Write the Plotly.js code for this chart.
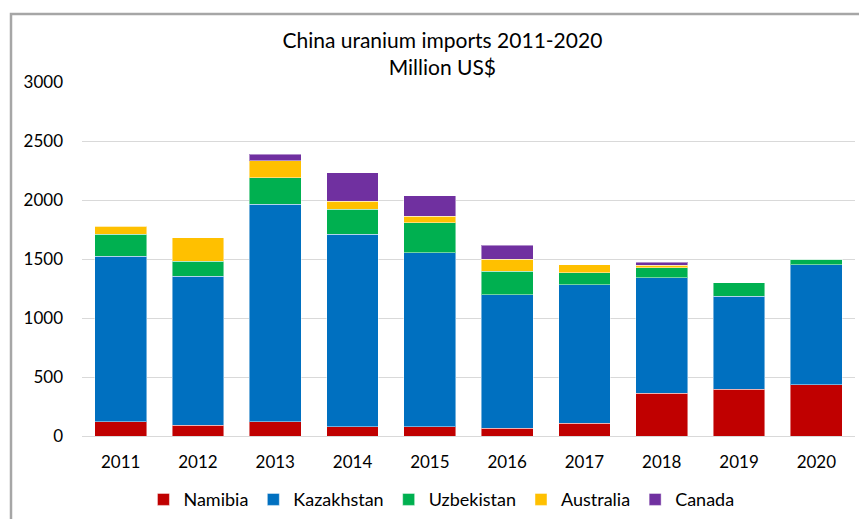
<!DOCTYPE html>
<html>
<head>
<meta charset="utf-8">
<script src="https://cdn.plot.ly/plotly-3.0.1.min.js"></script>
<style>
html,body{margin:0;padding:0;background:#fff;}
#chart{width:859px;height:519px;}
</style>
</head>
<body>
<div id="chart"></div>
<script>
var years = ["2011","2012","2013","2014","2015","2016","2017","2018","2019","2020"];
var namibia    = [122, 93, 122, 79, 79, 65, 108, 363, 397, 433];
var kazakhstan = [1402, 1261, 1841, 1629, 1474, 1133, 1175, 977, 787, 1020];
var uzbekistan = [184, 128, 227, 213, 255, 199, 100, 85, 114, 43];
var australia  = [71, 198, 141, 70, 56, 99, 70, 23, 0, 0];
var canada     = [0, 0, 57, 241, 170, 119, 0, 25, 0, 0];
var yTicks = [0, 500, 1000, 1500, 2000, 2500, 3000];

var seriesNames = ["Namibia", "Kazakhstan", "Uzbekistan", "Australia", "Canada"];
var seriesData = [namibia, kazakhstan, uzbekistan, australia, canada];
var colors = ["#C00000", "#0070C0", "#00B050", "#FFC000", "#7030A0"];

var traces = seriesNames.map(function(n, i){
  return {
    type: "bar",
    name: n,
    x: years,
    y: seriesData[i],
    marker: {color: colors[i], line: {color: "rgba(255,255,255,0.45)", width: 1}},
    hoverinfo: "x+y+name"
  };
});

var layout = {
  width: 859, height: 519,
  margin: {l: 82, r: 4, t: 82, b: 83, autoexpand: false},
  paper_bgcolor: "#ffffff",
  plot_bgcolor: "#ffffff",
  barmode: "stack",
  bargap: 0.33,
  font: {family: "Lato, 'Open Sans', sans-serif", color: "#000000", size: 17},
  title: {
    text: "China uranium imports 2011-2020<br>Million US$",
    font: {family: "Lato, 'Open Sans', sans-serif", size: 21, color: "#000"},
    xref: "container", x: 0.515, xanchor: "center",
    yref: "container", y: 1 - 48/519, yanchor: "top"
  },
  xaxis: {
    type: "category",
    showgrid: false,
    showline: false,
    ticks: "",
    tickfont: {size: 17},
    ticklabelstandoff: 14
  },
  yaxis: {
    range: [0, 3000],
    tickvals: yTicks,
    ticktext: yTicks.map(String),
    showgrid: true,
    gridcolor: "#d9d9d9",
    gridwidth: 1,
    zeroline: true,
    zerolinecolor: "#d9d9d9",
    zerolinewidth: 1,
    showline: false,
    ticks: "",
    tickfont: {size: 17},
    ticklabelstandoff: 18
  },
  legend: {
    orientation: "h",
    x: 0.465, xanchor: "center",
    y: -0.18, yanchor: "middle",
    font: {size: 18},
    traceorder: "normal",
    itemwidth: 30
  },
  shapes: [{
    type: "rect", xref: "paper", yref: "paper",
    x0: (11-82)/773, x1: (880-82)/773,
    y0: (436-530)/354, y1: (436-14)/354,
    line: {color: "#a6a6a6", width: 2.5},
    fillcolor: "rgba(0,0,0,0)",
    layer: "below"
  }],
  showlegend: true
};

Plotly.newPlot("chart", traces, layout, {displayModeBar: false, staticPlot: true});
</script>
</body>
</html>
